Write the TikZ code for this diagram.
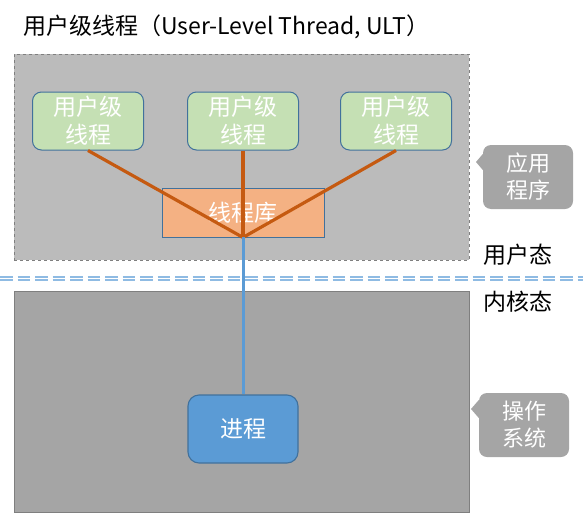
\documentclass[tikz,border=0pt]{standalone}
\usepackage{fontspec}
\setmainfont{Noto Sans CJK SC}
\usetikzlibrary{calc}

\definecolor{usergray}{HTML}{BBBBBB}
\definecolor{kernelgray}{HTML}{A5A5A5}
\definecolor{edgegray}{HTML}{7F7F7F}
\definecolor{threadgreen}{HTML}{C5E0B4}
\definecolor{libcolor}{HTML}{F4B183}
\definecolor{nodeblue}{HTML}{41719C}
\definecolor{procblue}{HTML}{5B9BD5}
\definecolor{linkorange}{HTML}{C55A11}
\definecolor{splitblue}{HTML}{8FBBE3}

\begin{document}
\begin{tikzpicture}[x=1pt, y=-1pt,
    thread/.style={draw=nodeblue, fill=threadgreen, line width=1pt, rounded corners=9pt,
        minimum width=111pt, minimum height=58pt, text=white, align=center,
        font=\fontsize{23}{28}\selectfont},
    callout/.style={fill=kernelgray, rounded corners=8pt, text=white, align=center,
        font=\fontsize{22}{27}\selectfont},
    label/.style={inner sep=0pt, font=\fontsize{23}{27}\selectfont},
    split/.style={splitblue, line width=2pt, dash pattern=on 12.5pt off 5pt}]
\useasboundingbox (0,0) rectangle (583,530);

% two layers: user space and kernel space
\node[draw=edgegray, dashed, fill=usergray, line width=0.8pt, minimum width=455pt, minimum height=206pt, anchor=north west] (USER) at (14,54) {};
\node[draw=edgegray, fill=kernelgray, line width=1.4pt, minimum width=455pt, minimum height=221pt, anchor=north west] (KERNEL) at (14,291) {};

\node[label, anchor=west] (TITLE) at (23,27) {用户级线程（User-Level Thread, ULT）};

\node[thread] (ULT1) at (88,121) {用户级\\线程};
\node[thread] (ULT2) at (243,121) {用户级\\线程};
\node[thread] (ULT3) at (396,121) {用户级\\线程};

\node[draw=nodeblue, fill=libcolor, line width=0.9pt, minimum width=162pt, minimum height=49pt, text=white,
    font=\fontsize{23}{27}\selectfont] (LIB) at (243,212.5) {线程库};

\node[draw=nodeblue, fill=procblue, line width=1.1pt, rounded corners=11pt, minimum width=110pt, minimum height=68pt,
    text=white, font=\fontsize{23}{27}\selectfont] (PROC) at (243,429) {进程};

% user / kernel border, drawn as two dashed lines
\coordinate (SPLITL) at (0,278.5);
\coordinate (SPLITR) at (583,278.5);
\draw[split] ($ (SPLITL) + (0,-1.9) $) -- ($ (SPLITR) + (0,-1.9) $);
\draw[split] ($ (SPLITL) + (0,1.9) $) -- ($ (SPLITR) + (0,1.9) $);

\draw[linkorange, line width=3.2pt] (ULT1.south) -- (LIB.south);
\draw[linkorange, line width=3.2pt] (ULT2.south) -- (LIB.south);
\draw[linkorange, line width=3.2pt] (ULT3.south) -- (LIB.south);
\draw[procblue, line width=3pt] (LIB.south) -- (PROC.north);

\node[label] (USERMODE) at (518,255) {用户态};
\node[label] (KERNELMODE) at (518,302) {内核态};

\node[callout, minimum width=90pt, minimum height=64pt] (APP) at (528,177) {应用\\程序};
\fill[kernelgray] ($ (APP.west) + (0,-23) $) -- (476,162) -- ($ (APP.west) + (0,-7) $) -- cycle;
\node[callout, minimum width=90pt, minimum height=64pt] (OS) at (524,425) {操作\\系统};
\fill[kernelgray] ($ (OS.west) + (0,-25) $) -- (471,409) -- ($ (OS.west) + (0,-7) $) -- cycle;
\end{tikzpicture}
\end{document}
